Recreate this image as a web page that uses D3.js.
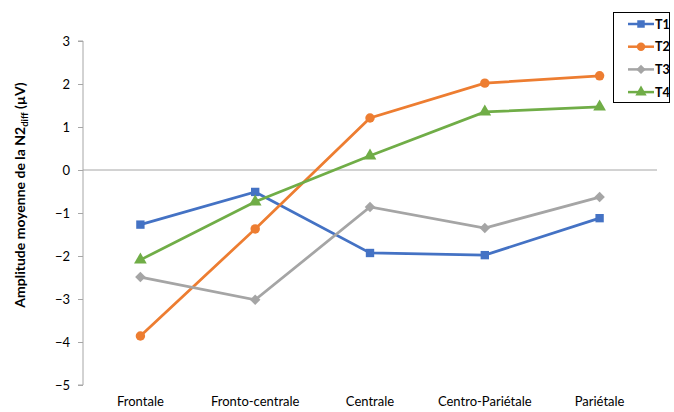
<!DOCTYPE html>
<html><head><meta charset="utf-8">
<script src="https://cdn.jsdelivr.net/npm/d3@7"></script>
<style>body{margin:0;background:#fff}text{font-family:Lato,"Open Sans",sans-serif}</style>
</head><body><svg id="c" width="674" height="412"></svg>
<script>
const categories = ["Frontale","Fronto-centrale","Centrale","Centro-Pariétale","Pariétale"];
const seriesNames = ["T1","T2","T3","T4"];
const T1 = [-1.27,-0.51,-1.93,-1.98,-1.12];
const T2 = [-3.86,-1.37,1.21,2.02,2.19];
const T3 = [-2.49,-3.02,-0.86,-1.35,-0.63];
const T4 = [-2.09,-0.74,0.33,1.35,1.47];
const yTicks = [3,2,1,0,-1,-2,-3,-4,-5];
const colors = ["#4472C4","#ED7D31","#A5A5A5","#70AD47"];
const shapes = [d3.symbolSquare,d3.symbolCircle,d3.symbolSquare,d3.symbolTriangle];
const rot = [0,0,45,0];
const sizes = [70,70,55,70];
const seriesData = [T1,T2,T3,T4];

(function(){
const svg = d3.select("#c");
const left=83,right=657,pTop=41,pBottom=385;
const x = d3.scaleBand().domain(categories).range([left,right]);
const y = d3.scaleLinear().domain([-5,3]).range([pBottom,pTop]);

const ya = svg.append("g").attr("transform",`translate(${left},0)`)
  .call(d3.axisLeft(y).tickValues(yTicks).tickSize(5).tickPadding(8).tickFormat(d3.format("d")));
ya.select(".domain").attr("stroke","#a6a6a6").attr("d",`M-5,${pTop}H0V${pBottom}H-5`);
ya.selectAll(".tick line").attr("stroke","#a6a6a6");
ya.selectAll(".tick text").attr("font-size",13).attr("fill","#000").style("font-family","Lato,'Open Sans',sans-serif");

svg.append("line").attr("x1",left).attr("x2",right).attr("y1",y(0)).attr("y2",y(0)).attr("stroke","#a6a6a6");

svg.selectAll(".cat").data(categories).enter().append("text")
  .attr("x",d=>x(d)+x.bandwidth()/2).attr("y",406).attr("text-anchor","middle")
  .attr("font-size",13).text(d=>d);

svg.append("text").attr("transform","translate(25,195) rotate(-90)").attr("text-anchor","middle")
  .attr("font-size",14).attr("font-weight","bold")
  .html('Amplitude moyenne de la N2<tspan font-size="9.5" dy="3">diff</tspan><tspan dy="-3"> (µV)</tspan>');

const line = d3.line().x((d,i)=>x(categories[i])+x.bandwidth()/2).y(d=>y(d));
seriesData.forEach((s,k)=>{
  svg.append("path").datum(s).attr("d",line).attr("fill","none").attr("stroke",colors[k]).attr("stroke-width",2.75);
  svg.selectAll(".m"+k).data(s).enter().append("path")
    .attr("transform",(d,i)=>`translate(${x(categories[i])+x.bandwidth()/2},${y(d)}) rotate(${rot[k]})`)
    .attr("d",d3.symbol().type(shapes[k]).size(sizes[k])).attr("fill",colors[k]);
});

const lg = svg.append("g");
lg.append("rect").attr("x",613.5).attr("y",12.5).attr("width",56).attr("height",90).attr("fill","#fff").attr("stroke","#000").attr("stroke-width",1);
seriesNames.forEach((n,k)=>{
  const yy = 24 + k*22.7;
  lg.append("line").attr("x1",628).attr("x2",654).attr("y1",yy).attr("y2",yy).attr("stroke",colors[k]).attr("stroke-width",2.5);
  lg.append("path").attr("transform",`translate(641,${yy}) rotate(${rot[k]})`).attr("d",d3.symbol().type(shapes[k]).size(sizes[k]*0.8)).attr("fill",colors[k]);
  lg.append("text").attr("x",655).attr("y",yy+4.5).attr("font-size",12.5).attr("font-weight","bold").text(n);
});
})();
</script></body></html>
